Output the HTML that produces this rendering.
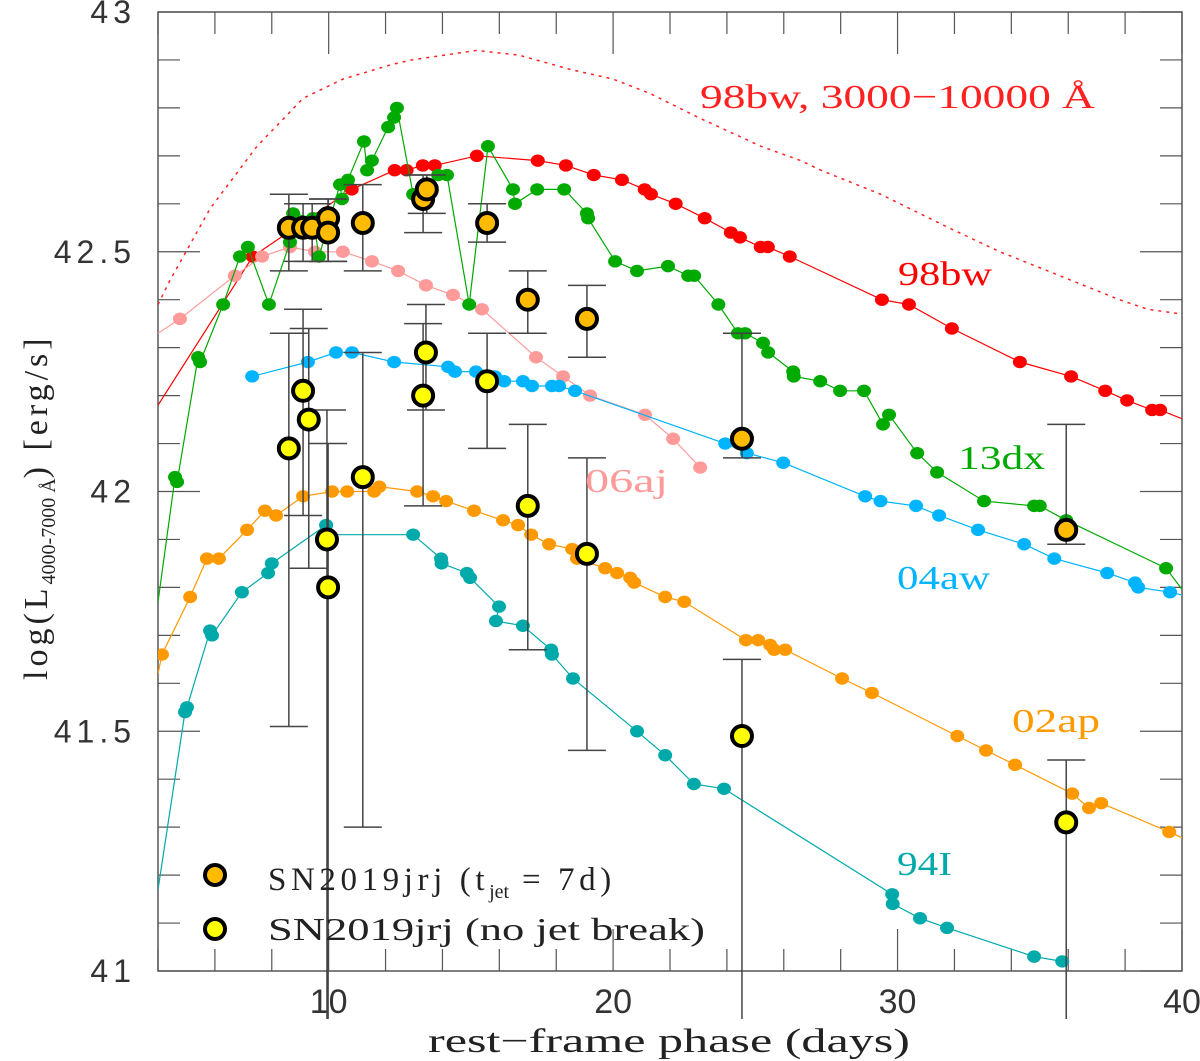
<!DOCTYPE html>
<html><head><meta charset="utf-8"><style>
html,body{margin:0;padding:0;background:#fff}
svg{display:block}
</style></head><body>
<svg id="chart" width="1200" height="1061" viewBox="0 0 1200 1061" xmlns="http://www.w3.org/2000/svg" font-family="'Liberation Serif', serif">
<defs><clipPath id="clip"><rect x="158" y="12" width="1024" height="959"/></clipPath></defs>
<g id="axes"></g>
<g id="series" clip-path="url(#clip)"></g>
<g id="sn"></g>
<g id="labels"></g>
</svg>
<script>
const dottedBW=[[4,42.39],[4.42,42.44],[5.83,42.59],[7.48,42.72],[9.1,42.82],[10.5,42.86],[12.2,42.89],[12.9,42.9],[15.2,42.92],[16.7,42.91],[18.5,42.88],[20.0,42.86],[21.3,42.83],[23.0,42.78],[25.2,42.72],[26.6,42.69],[27.3,42.67],[29.4,42.62],[31.8,42.55],[33.6,42.50],[35.7,42.45],[37.8,42.40],[38.8,42.38],[40,42.37]];
const sn98bw=[[4,42.18],[7.33,42.49],[10.81,42.63],[12.32,42.67],[12.74,42.67],[13.31,42.68],[13.73,42.68],[15.21,42.70],[17.35,42.69],[18.34,42.68],[19.32,42.66],[20.31,42.65],[21.11,42.63],[21.33,42.62],[22.2,42.60],[23.22,42.57],[24.14,42.54],[24.46,42.53],[25.19,42.51],[25.44,42.51],[26.21,42.49],[29.45,42.40],[30.4,42.39],[31.91,42.34],[34.3,42.27],[36.1,42.24],[37.3,42.21],[38.07,42.19],[38.95,42.17],[39.23,42.17],[40.5,42.14]];
const sn13dx=[[4,41.77],[4.6,42.03],[4.67,42.02],[5.41,42.28],[5.48,42.27],[6.29,42.39],[6.88,42.49],[7.16,42.51],[7.9,42.39],[8.64,42.52],[8.75,42.58],[9.45,42.57],[9.66,42.49],[10.4,42.64],[10.47,42.61],[10.68,42.65],[11.24,42.73],[11.35,42.67],[11.52,42.69],[12.09,42.76],[12.3,42.78],[12.4,42.80],[12.97,42.62],[13.85,42.66],[14.16,42.66],[14.94,42.39],[15.6,42.72],[16.48,42.63],[16.55,42.60],[17.33,42.63],[18.28,42.63],[19.08,42.58],[19.12,42.57],[20.07,42.48],[20.84,42.46],[21.93,42.47],[22.64,42.45],[22.85,42.45],[23.7,42.39],[24.39,42.33],[24.64,42.33],[25.27,42.31],[25.45,42.29],[26.33,42.25],[26.35,42.24],[27.28,42.23],[27.98,42.21],[28.82,42.21],[29.49,42.14],[29.7,42.16],[30.69,42.08],[31.39,42.04],[33.04,41.98],[34.8,41.97],[35.0,41.97],[35.93,41.94],[39.44,41.84],[40.2,41.78]];
const sn06aj=[[4,42.33],[4.77,42.36],[6.7,42.45],[7.66,42.49],[8.64,42.51],[9.52,42.50],[10.5,42.50],[11.52,42.48],[12.44,42.46],[13.42,42.43],[14.37,42.41],[15.39,42.38],[17.29,42.28],[18.24,42.24],[19.19,42.20],[21.12,42.16],[22.11,42.11],[23.06,42.05]];
const sn04aw=[[7.31,42.24],[9.27,42.27],[10.26,42.29],[10.82,42.29],[12.3,42.27],[14.2,42.26],[14.44,42.25],[15.18,42.25],[15.85,42.24],[16.17,42.23],[16.83,42.23],[17.15,42.22],[17.85,42.22],[18.1,42.22],[18.66,42.21],[23.94,42.10],[24.7,42.08],[25.98,42.06],[28.86,41.99],[29.4,41.98],[30.65,41.97],[31.46,41.95],[32.83,41.92],[34.45,41.89],[35.51,41.86],[37.37,41.83],[38.35,41.81],[38.46,41.80],[39.58,41.79],[40.3,41.78]];
const sn02ap=[[4,41.62],[4.14,41.66],[5.13,41.78],[5.72,41.86],[6.14,41.86],[7.13,41.92],[7.76,41.96],[8.15,41.95],[9.1,41.99],[10.12,42.00],[10.65,42.00],[11.6,42.00],[11.78,42.01],[13.11,42.00],[13.67,41.99],[14.13,41.98],[15.11,41.96],[16.13,41.94],[16.66,41.93],[17.12,41.91],[17.75,41.89],[18.56,41.88],[18.73,41.86],[19.72,41.84],[20.14,41.83],[20.6,41.82],[20.74,41.81],[21.83,41.78],[22.5,41.77],[24.67,41.69],[25.1,41.69],[25.52,41.68],[25.66,41.67],[26.05,41.67],[28.05,41.61],[29.1,41.58],[32.1,41.49],[33.11,41.46],[34.13,41.43],[36.14,41.37],[36.73,41.34],[37.16,41.35],[39.55,41.29],[40.3,41.27]];
const sn94I=[[4,41.17],[4.95,41.54],[5.02,41.55],[5.83,41.71],[5.9,41.70],[6.95,41.79],[7.87,41.83],[8.0,41.85],[9.91,41.93],[9.98,41.91],[12.97,41.91],[13.95,41.86],[13.97,41.85],[14.86,41.83],[14.97,41.82],[15.99,41.76],[15.88,41.73],[16.83,41.72],[17.82,41.67],[17.85,41.66],[18.59,41.61],[20.84,41.50],[21.83,41.45],[22.84,41.39],[23.9,41.38],[29.81,41.16],[29.83,41.14],[30.79,41.11],[31.74,41.09],[34.8,41.03],[35.79,41.02]];
// SN2019jrj: day, value, error low, error high
const jetDays=[8.6,9.1,9.42,9.98,9.98,11.2,13.32,13.45,15.57,17.0,19.08,24.53,35.93];
const jetVals=[42.55,42.55,42.55,42.57,42.54,42.56,42.61,42.63,42.56,42.40,42.36,42.11,41.92];
const jetLo=[42.46,42.48,42.48,42.48,42.48,42.46,42.54,42.58,42.52,42.33,42.28,42.07,41.89];
const jetHi=[42.62,42.60,42.60,42.61,42.61,42.64,42.66,42.66,42.60,42.46,42.43,42.33,42.14];
const noDays=[8.6,9.1,9.3,9.94,9.98,11.2,13.42,13.32,15.57,17.0,19.08,24.53,35.93];
const noVals=[42.09,42.21,42.15,41.90,41.80,42.03,42.29,42.20,42.23,41.97,41.87,41.49,41.31];
const noLo=[41.51,41.95,41.84,40.9,40.9,41.30,42.17,41.97,42.09,41.67,41.46,40.9,40.9];
const noHi=[42.33,42.38,42.34,42.17,42.10,42.29,42.39,42.35,42.33,42.14,42.07,41.65,41.44];
const xTicks=[10,20,30,40];
const yTicks=[41,41.5,42,42.5,43];
const yTickLabels=["41","41.5","42","42.5","43"];

const L=158,R=1182,T=12,B=971,XMIN=4,XMAX=40,YMIN=41,YMAX=43;
const X=d=>L+(d-XMIN)*(R-L)/(XMAX-XMIN);
const Y=v=>B-(v-YMIN)*(B-T)/(YMAX-YMIN);
const NS="http://www.w3.org/2000/svg";
function mk(tag,attrs,parent){const e=document.createElementNS(NS,tag);for(const k in attrs)e.setAttribute(k,attrs[k]);parent.appendChild(e);return e;}
const axes=document.getElementById('axes'),series=document.getElementById('series'),sn=document.getElementById('sn'),labels=document.getElementById('labels');

const frame=mk('rect',{x:L,y:T,width:R-L,height:B-T,fill:'none',stroke:'#555','stroke-width':1.5},axes);


for(let d=4;d<=40;d+=2){const major=d%10===0;const len=major?42:22;
 const t1=mk('line',{x1:X(d),x2:X(d),y1:B,y2:B-len,stroke:'#555','stroke-width':1.2},axes);
 
 
 mk('line',{x1:X(d),x2:X(d),y1:T,y2:T+len,stroke:'#555','stroke-width':1.2},axes);}
for(let i=0;i<=20;i++){const v=41+i*0.1;const major=i%5===0;const len=major?42:22;
 const t=mk('line',{x1:L,x2:L+len,y1:Y(v),y2:Y(v),stroke:'#555','stroke-width':1.2},axes);
 
 
 mk('line',{x1:R,x2:R-len,y1:Y(v),y2:Y(v),stroke:'#555','stroke-width':1.2},axes);}
xTicks.forEach(d=>{const t=mk('text',{x:X(d),y:1013,'text-anchor':'middle','font-size':34,fill:'#333','font-family':"'Liberation Sans', sans-serif"},axes);t.textContent=String(d);
 
 });
yTicks.forEach((v,i)=>{const t=mk('text',{x:136,y:Y(v)+11,'text-anchor':'end','font-size':32,fill:'#333','letter-spacing':5,'font-family':"'Liberation Sans', sans-serif"},axes);t.textContent=yTickLabels[i];
 
 });

function line(data,color,name,dash,dots){
 const pts=data.map(p=>X(p[0]).toFixed(1)+','+Y(p[1]).toFixed(1)).join(' ');
 const pl=mk('polyline',{points:pts,fill:'none',stroke:color,'stroke-width':dash?1.5:1.2},series);
 if(dash)pl.setAttribute('stroke-dasharray',dash);
 
 
 if(dots)data.forEach(p=>{if(p[0]<=4.01||p[0]>40)return;
  const c=mk('ellipse',{cx:X(p[0]),cy:Y(p[1]),rx:7,ry:6.2,fill:color},series);
  
  });
}
line(dottedBW,'#ff2020','98bw-3000-10000','3,5',false);
line(sn98bw,'#ff0000','98bw',null,true);
line(sn06aj,'#ff9a9a','06aj',null,true);
line(sn04aw,'#00b4ff','04aw',null,true);
line(sn02ap,'#ff9900','02ap',null,true);
line(sn94I,'#00aaaa','94I',null,true);
line(sn13dx,'#00aa00','13dx',null,true);

function snSet(days,vals,lo,hi,fill,name){
 days.forEach((d,i)=>{const x=X(d);
  const eb=mk('line',{x1:x,x2:x,y1:Y(Math.max(lo[i],40.9)),y2:Y(hi[i]),stroke:'#444','stroke-width':1.5},sn);
  
  
  if(lo[i]>41)mk('line',{x1:x-19,x2:x+19,y1:Y(lo[i]),y2:Y(lo[i]),stroke:'#444','stroke-width':1.5},sn);
  mk('line',{x1:x-19,x2:x+19,y1:Y(hi[i]),y2:Y(hi[i]),stroke:'#444','stroke-width':1.5},sn);});
 days.forEach((d,i)=>{const c=mk('circle',{cx:X(d),cy:Y(vals[i]),r:10,fill:fill,stroke:'#000','stroke-width':4},sn);
  
  });
}
snSet(noDays,noVals,noLo,noHi,'#ffff00','sn2019jrj-no-jet-break');
snSet(jetDays,jetVals,jetLo,jetHi,'#ffbb00','sn2019jrj-tjet-7d');

function label(txt,x,y,w,color,size,name){const t=mk('text',{x:x,y:y,fill:color,'font-size':size,textLength:w,lengthAdjust:'spacingAndGlyphs'},labels);t.textContent=txt;
 
 return t;}
label('98bw, 3000\u221210000 \u00c5',700,108,395,'#ff2020',34,'label-98bw-broadband');
label('98bw',898,285,94,'#ff0000',34,'label-98bw');
label('13dx',958,469,87,'#00aa00',34,'label-13dx');
label('06aj',585,492,83,'#ff9a9a',34,'label-06aj');
label('04aw',897,589,93,'#00b4ff',34,'label-04aw');
label('02ap',1012,732,88,'#ff9900',34,'label-02ap');
label('94I',897,875,55,'#00aaaa',34,'label-94I');
// legend
const lg1=mk('circle',{cx:215,cy:875,r:10,fill:'#ffbb00',stroke:'#000','stroke-width':4},labels);


const lg2=mk('circle',{cx:215,cy:929,r:10,fill:'#ffff00',stroke:'#000','stroke-width':4},labels);


const lt1=mk('text',{x:268,y:890,fill:'#222','font-size':33,'letter-spacing':4.6},labels);


lt1.innerHTML='<tspan>SN2019jrj (t</tspan><tspan font-size="20" dy="8" letter-spacing="0">jet</tspan><tspan dy="-8"> = 7d)</tspan>';
label('SN2019jrj (no jet break)',268,940,437,'#222',32,'legend-entry-no-jet');
// axis titles
const xt=mk('text',{x:428,y:1052,fill:'#222','font-size':34,textLength:482,lengthAdjust:'spacingAndGlyphs'},labels);
xt.textContent='rest\u2212frame phase (days)';


const yt=mk('text',{x:0,y:0,fill:'#222','font-size':34,'letter-spacing':4,transform:'translate(47,680) rotate(-90)'},labels);
yt.innerHTML='<tspan>log(L</tspan><tspan font-size="20" dy="8" letter-spacing="0">4000-7000 \u00c5</tspan><tspan dy="-8">) [erg/s]</tspan>';


</script>
</body></html>
